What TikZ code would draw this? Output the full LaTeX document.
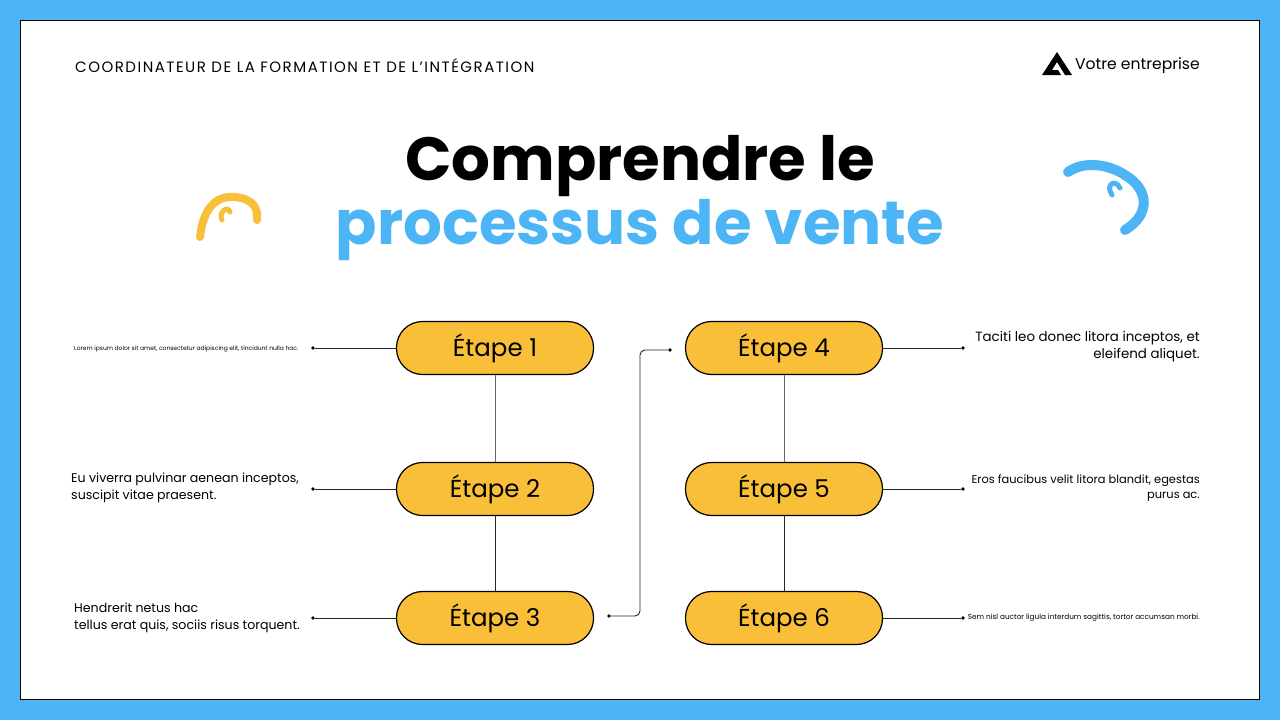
\documentclass[tikz,border=0pt]{standalone}
\usepackage{fontspec}
\setmainfont{Poppins}
\begin{document}
\begin{tikzpicture}[x=1pt,y=-1pt,
  stepbox/.style={draw=black,line width=1.2pt,fill=stepyellow,rounded corners=26pt,minimum width=197pt,minimum height=53pt,font=\fontsize{24.5}{28}\selectfont},
  conn/.style={line width=0.9pt,draw=black!85},
  dotc/.style={circle,fill=black,inner sep=1.3pt},
  desc/.style={font=\fontsize{12.6}{17}\selectfont,inner sep=0pt}]
\definecolor{stepyellow}{HTML}{F9BF38}
\definecolor{skyb}{HTML}{4DB5F5}
\fill[skyb] (0,0) rectangle (1280,720);
\useasboundingbox (0,0) rectangle (1280,720);
\draw[fill=white,line width=0.8pt] (20,20) rectangle (1259,699);
\node[anchor=west,font=\fontsize{15}{18}\selectfont,inner sep=0pt] (hdr) at (75,66) {\addfontfeature{LetterSpace=10}COORDINATEUR DE LA FORMATION ET DE L'INTÉGRATION};
\node[anchor=east,font=\fontsize{15.6}{18}\selectfont,inner sep=0pt] (brand) at (1200,66) {Votre entreprise};
\fill[black] (1042,75) -- (1057,52) -- (1072,75) -- (1065,75) -- (1057,62) -- (1052,70) -- (1058,70) -- (1061,75) -- cycle;
\node[font=\fontsize{61}{66}\selectfont\bfseries] (t1) at (640,166) {Comprendre le};
\node[font=\fontsize{61}{66}\selectfont\bfseries,text=skyb] (t2) at (640,230) {processus de vente};
% squiggles
\draw[stepyellow,line width=8pt,line cap=round] (200,237) .. controls (203,210) and (215,195) .. (235,197) .. controls (255,199) and (258,210) .. (257,220);
\draw[stepyellow,line width=5pt,line cap=round] (222,220) .. controls (218,212) and (228,205) .. (230,212);
\draw[skyb,line width=10pt,line cap=round] (1068,172) .. controls (1085,160) and (1110,165) .. (1125,175) .. controls (1150,190) and (1150,215) .. (1125,230);
\draw[skyb,line width=5pt,line cap=round] (1112,195) .. controls (1105,185) and (1115,178) .. (1120,188);
% boxes
\node[stepbox] (s1) at (495,348) {Étape 1};
\node[stepbox] (s2) at (495,489) {Étape 2};
\node[stepbox] (s3) at (495,618) {Étape 3};
\node[stepbox] (s4) at (784,348) {Étape 4};
\node[stepbox] (s5) at (784,489) {Étape 5};
\node[stepbox] (s6) at (784,618) {Étape 6};
\draw[conn,draw=black!60] (s1) -- (s2);
\draw[conn] (s2) -- (s3);
\draw[conn,draw=black!60] (s4) -- (s5);
\draw[conn] (s5) -- (s6);
% left descriptions
\node[dotc] (d1) at (313,348) {};
\node[dotc] (d2) at (313,489) {};
\node[dotc] (d3) at (313,618) {};
\draw[conn] (d1) -- (s1.west);
\draw[conn] (d2) -- (s2.west);
\draw[conn] (d3) -- (s3.west);
\node[anchor=west,font=\fontsize{6}{7}\selectfont,inner sep=0pt] (l1) at (74,349) {Lorem ipsum dolor sit amet, consectetur adipiscing elit, tincidunt nulla hac.};
\node[anchor=west,desc,align=left] (l2) at (71,488) {Eu viverra pulvinar aenean inceptos,\\suscipit vitae praesent.};
\node[anchor=west,desc,align=left] (l3) at (74,618) {Hendrerit netus hac\\tellus erat quis, sociis risus torquent.};
% right descriptions
\node[dotc] (e4) at (963,348) {};
\node[dotc] (e5) at (963,489) {};
\node[dotc] (e6) at (963,618) {};
\draw[conn] (s4.east) -- (e4);
\draw[conn] (s5.east) -- (e5);
\draw[conn] (s6.east) -- (e6);
\node[anchor=east,desc,align=right,font=\fontsize{13.4}{17}\selectfont] (r4) at (1200,347) {Taciti leo donec litora inceptos, et\\eleifend aliquet.};
\node[anchor=east,desc,align=right,font=\fontsize{11.4}{15}\selectfont] (r5) at (1200,488) {Eros faucibus velit litora blandit, egestas\\purus ac.};
\node[anchor=east,font=\fontsize{7.3}{8}\selectfont,inner sep=0pt] (r6) at (1200,618) {Sem nisl auctor ligula interdum sagittis, tortor accumsan morbi.};
% link 3 -> 4
\node[dotc] (a3) at (609,616) {};
\node[dotc] (a4) at (670,350) {};
\draw[conn,rounded corners=5pt] (a3) -- (640,616) -- (640,350) -- (a4);
\end{tikzpicture}
\end{document}
